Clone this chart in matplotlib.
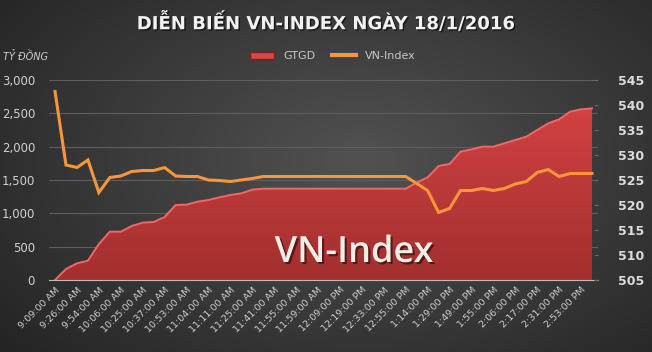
import numpy as np
import matplotlib
matplotlib.use("Agg")
import matplotlib.pyplot as plt
from matplotlib.patches import Patch, Polygon
from matplotlib.lines import Line2D
import matplotlib.patheffects as pe

# data
tick_labels = ["9:09:00 AM", "9:26:00 AM", "9:54:00 AM", "10:06:00 AM", "10:25:00 AM",
               "10:37:00 AM", "10:53:00 AM", "11:04:00 AM", "11:11:00 AM", "11:25:00 AM",
               "11:41:00 AM", "11:55:00 AM", "11:59:00 AM", "12:09:00 PM", "12:19:00 PM",
               "12:33:00 PM", "12:55:00 PM", "1:14:00 PM", "1:29:00 PM", "1:49:00 PM",
               "1:55:00 PM", "2:06:00 PM", "2:17:00 PM", "2:31:00 PM", "2:53:00 PM"]

gtgd = [0, 165, 250, 290, 540, 725, 725, 810, 860, 870,
        945, 1125, 1130, 1175, 1200, 1240, 1275, 1300, 1355, 1370,
        1370, 1370, 1370, 1370, 1370, 1370, 1370, 1370, 1370, 1370,
        1370, 1370, 1370, 1460, 1540, 1710, 1740, 1925, 1960, 2000,
        2000, 2050, 2100, 2150, 2250, 2350, 2410, 2525, 2560, 2575]

vnindex = [542.7, 528.0, 527.5, 529.0, 522.5, 525.5, 525.8, 526.7, 526.9, 526.9,
           527.5, 525.8, 525.7, 525.7, 525.0, 524.9, 524.7, 525.0, 525.3, 525.7,
           525.7, 525.7, 525.7, 525.7, 525.7, 525.7, 525.7, 525.7, 525.7, 525.7,
           525.7, 525.7, 525.7, 524.3, 522.9, 518.5, 519.3, 522.9, 522.9, 523.3,
           522.9, 523.3, 524.2, 524.7, 526.5, 527.1, 525.7, 526.3, 526.3, 526.3]

x = np.arange(len(gtgd))

fig = plt.figure(figsize=(6.52, 3.52), dpi=100)

# dark radial background
bg = fig.add_axes([0, 0, 1, 1], zorder=-10)
yy, xx = np.mgrid[0:352, 0:652]
r = np.sqrt(((xx - 360) / 420.0) ** 2 + ((yy - 160) / 260.0) ** 2)
shade = np.clip(0.32 - 0.16 * r, 0.14, 0.33)
bg.imshow(np.dstack([shade] * 3), aspect="auto", extent=[0, 1, 0, 1])
bg.set_axis_off()

ax = fig.add_axes([49 / 652, 72 / 352, 548.5 / 652, 200 / 352])
ax.patch.set_alpha(0)

# red area with vertical gradient
verts = [(x[0], 0)] + list(zip(x, gtgd)) + [(x[-1], 0)]
poly = Polygon(verts, closed=True, facecolor="none", edgecolor="none")
ax.add_patch(poly)
grad = np.linspace(1, 0, 256).reshape(-1, 1)
cmap = matplotlib.colors.LinearSegmentedColormap.from_list("red", ["#a22f2f", "#d94444"])
im = ax.imshow(grad, extent=[-0.55, 49.5, 0, 3000], aspect="auto", cmap=cmap, zorder=2)
im.set_clip_path(poly)
ax.plot(x, gtgd, color="#ee6868", lw=1.4, zorder=3)

ax.set_xlim(-0.55, 49.5)
ax.set_ylim(0, 3000)
ax.set_yticks(range(0, 3001, 500))
ax.set_yticklabels([f"{v:,}" for v in range(0, 3001, 500)])
ax.grid(axis="y", color="#5e5e5e", lw=0.8)
ax.set_axisbelow(True)
ax.tick_params(axis="y", length=0, pad=10, labelsize=8.5, labelcolor="#d0d0d0")
ax.set_xticks(x[::2])
ax.set_xticklabels(tick_labels, rotation=45, ha="right", rotation_mode="anchor")
ax.tick_params(axis="x", length=0, pad=4, labelsize=6.8, labelcolor="#cfcfcf")
for s in ["top", "right", "left"]:
    ax.spines[s].set_visible(False)
ax.spines["bottom"].set_color("#bdbdbd")
ax.spines["bottom"].set_zorder(4)

ax2 = ax.twinx()
ax2.plot(x, vnindex, color="#f7963a", lw=2.2, solid_joinstyle="miter", zorder=5)
ax2.set_ylim(505, 545)
ax2.set_yticks(range(505, 546, 5))
ax2.tick_params(axis="y", direction="in", length=3, color="#6a6a6a", pad=15,
                labelsize=9, labelcolor="#dcdcdc")
for t in ax2.get_yticklabels():
    t.set_fontweight("bold")
for s in ax2.spines.values():
    s.set_visible(False)

fig.text(3 / 652, 1 - 57 / 352, "TỶ ĐỒNG", fontsize=7, style="italic",
         color="#cfcfcf", va="center", ha="left")

fig.text(325 / 652, 1 - 23 / 352, "DIỄN BIẾN VN-INDEX NGÀY 18/1/2016",
         fontsize=13, fontweight="bold", color="#f2f2f2", ha="center", va="center",
         path_effects=[pe.withSimplePatchShadow(offset=(1, -1), shadow_rgbFace="black", alpha=0.6)])

handles = [Patch(facecolor="#d84848", edgecolor="#7a1f1f", lw=1),
           Line2D([0], [0], color="#f7963a", lw=3)]
fig.legend(handles, ["GTGD", "VN-Index"], loc="center", ncol=2,
           bbox_to_anchor=(333 / 652, 1 - 56 / 352), frameon=False, fontsize=8,
           labelcolor="#c8c8c8", handlelength=2.2, handleheight=0.6, columnspacing=1.5)

fig.text(354 / 652, 1 - 253 / 352, "VN-Index", fontsize=26, family="Open Sans",
         fontweight="semibold", color="#efeee6", ha="center", va="center",
         path_effects=[pe.withSimplePatchShadow(offset=(1.5, -1.5), shadow_rgbFace="black", alpha=0.5)])

fig.savefig("out.png", dpi=100)
